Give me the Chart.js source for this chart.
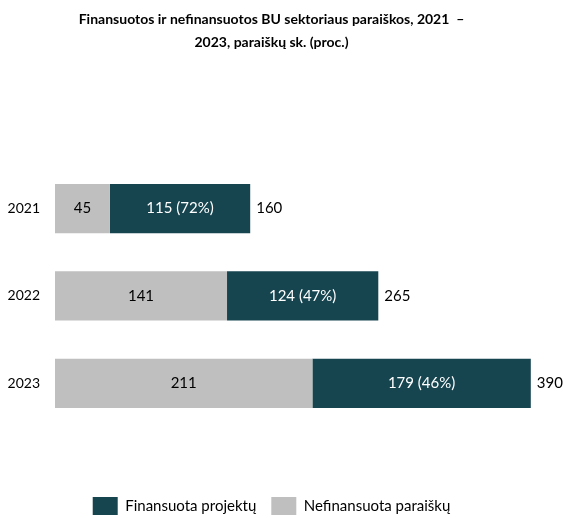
<!DOCTYPE html>
<html>
<head>
<meta charset="utf-8">
<script src="https://cdn.jsdelivr.net/npm/chart.js@4.4.1/dist/chart.umd.min.js"></script>
<style>
  html, body { margin: 0; padding: 0; background: #fff; }
  #wrap { width: 563px; height: 518px; }
</style>
</head>
<body>
<div id="wrap"><canvas id="chart"></canvas></div>
<script>
// data
const years = ['2021', '2022', '2023'];
const notFunded = [45, 141, 211];
const funded = [115, 124, 179];
const fundedPct = [72, 47, 46];
const totals = [160, 265, 390];

const FONT = 'Lato, "Open Sans", sans-serif';

// labels inside bars + totals after the bar
const barLabels = {
    id: 'barLabels',
    afterDatasetsDraw(chart) {
        const ctx = chart.ctx;
        ctx.save();
        ctx.font = '15px ' + FONT;
        ctx.textBaseline = 'middle';
        chart.data.datasets.forEach((ds, i) => {
            const meta = chart.getDatasetMeta(i);
            meta.data.forEach((bar, j) => {
                const cx = (bar.x + bar.base) / 2;
                let txt = String(ds.data[j]);
                if (i === 1) txt += ' (' + fundedPct[j] + '%)';
                ctx.fillStyle = i === 1 ? '#ffffff' : '#000000';
                ctx.textAlign = 'center';
                ctx.fillText(txt, cx, bar.y);
                if (i === 1) {
                    ctx.fillStyle = '#000000';
                    ctx.textAlign = 'left';
                    ctx.fillText(String(totals[j]), bar.x + 6, bar.y);
                }
            });
        });
        ctx.restore();
    }
};

new Chart(document.getElementById('chart'), {
    type: 'bar',
    data: {
        labels: years,
        datasets: [
            {
                label: 'Nefinansuota paraiškų',
                data: notFunded,
                backgroundColor: '#bfbfbf'
            },
            {
                label: 'Finansuota projektų',
                data: funded,
                backgroundColor: '#164550'
            }
        ]
    },
    options: {
        indexAxis: 'y',
        responsive: true,
        maintainAspectRatio: false,
        animation: false,
        layout: { padding: { left: 0, right: 20, top: 0, bottom: -7 } },
        categoryPercentage: 0.563,
        barPercentage: 1,
        scales: {
            x: {
                stacked: true,
                min: 0,
                max: 400,
                ticks: { display: false },
                grid: { display: false },
                border: { display: false },
                afterFit: (axis) => { axis.height = 55; }
            },
            y: {
                stacked: true,
                grid: { display: false, drawTicks: false },
                border: { display: false },
                ticks: { color: '#000', font: { family: FONT, size: 14 }, padding: 15 },
                afterFit: (axis) => { axis.width = 55; }
            }
        },
        plugins: {
            title: {
                display: true,
                text: ['Finansuotos ir nefinansuotos BU sektoriaus paraiškos, 2021  –', '2023, paraiškų sk. (proc.)'],
                color: '#000',
                font: { family: FONT, size: 14, weight: 'bold', lineHeight: 1.64 },
                padding: { top: 8, bottom: 111 }
            },
            legend: {
                position: 'bottom',
                reverse: true,
                labels: {
                    color: '#000',
                    boxWidth: 25,
                    boxHeight: 18,
                    padding: 15,
                    font: { family: FONT, size: 15 }
                }
            },
            tooltip: { enabled: false }
        }
    },
    plugins: [barLabels]
});
</script>
</body>
</html>
